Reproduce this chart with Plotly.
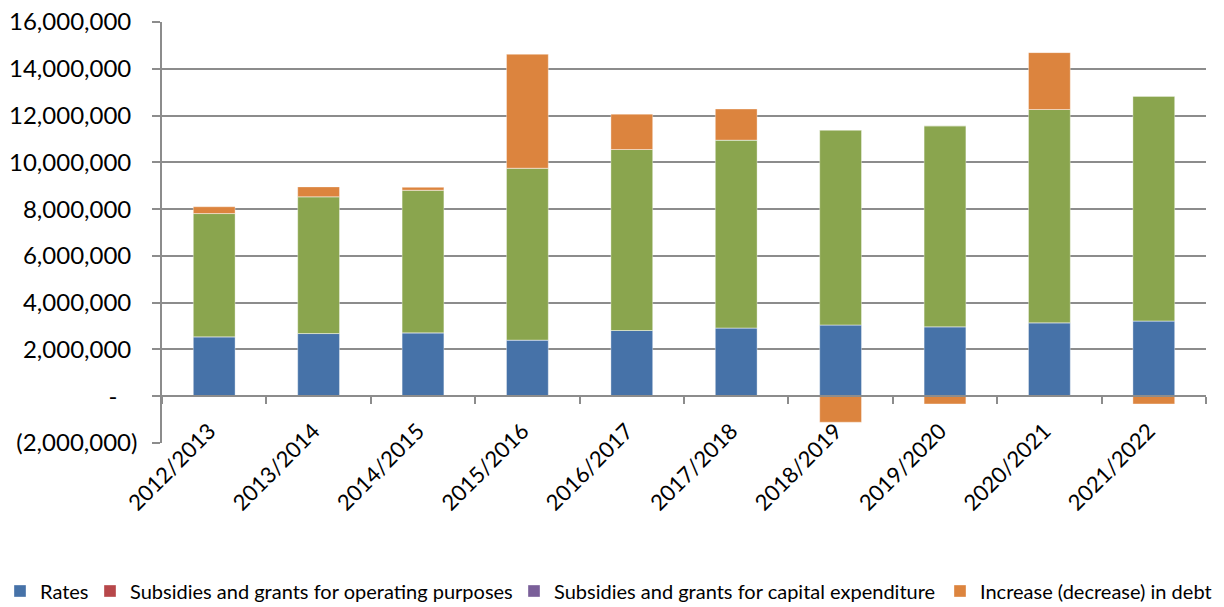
import plotly.graph_objects as go

categories = ["2012/2013", "2013/2014", "2014/2015", "2015/2016", "2016/2017",
              "2017/2018", "2018/2019", "2019/2020", "2020/2021", "2021/2022"]
rates = [2540000, 2680000, 2710000, 2400000, 2810000, 2920000, 3050000, 2970000, 3140000, 3220000]
subsidies_operating = [0, 0, 0, 0, 0, 0, 0, 0, 0, 0]
other_revenue = [5270000, 5850000, 6100000, 7350000, 7740000, 8030000, 8330000, 8590000, 9120000, 9610000]
subsidies_capital = [0, 0, 0, 0, 0, 0, 0, 0, 0, 0]
debt_change = [290000, 420000, 120000, 4870000, 1510000, 1330000, -1110000, -330000, 2430000, -330000]

y_tickvals = [-2000000, 0, 2000000, 4000000, 6000000, 8000000, 10000000, 12000000, 14000000, 16000000]
y_range = [-2000000, 16000000]


def acct(v):
    if v < 0:
        return "({:,})".format(-v)
    if v == 0:
        return "-\u2007\u00a0"
    return "{:,}\u00a0".format(v)


y_ticktext = [acct(v) for v in y_tickvals]

FONT = "Lato, Carlito, Calibri, sans-serif"
GRID = "#8c8c8c"
edge = dict(width=0.8, color="rgba(255,255,255,0.45)")

W, H = 1224, 607
ML, MR, MT, MB = 162, 18, 22, 164
PW = W - ML - MR
PH = H - MT - MB


def px_to_paper_x(px):
    return (px - ML) / PW


def px_to_paper_y(py):
    return (H - MB - py) / PH


fig = go.Figure()
fig.add_trace(go.Bar(name="Rates", x=categories, y=rates, legend="legend",
                     marker=dict(color="#4672a8", line=edge)))
fig.add_trace(go.Bar(name="Subsidies and grants for operating purposes", x=categories,
                     y=subsidies_operating, legend="legend2",
                     marker=dict(color="#b7474a", line=edge)))
fig.add_trace(go.Bar(name="Other revenue", x=categories, y=other_revenue, showlegend=False,
                     marker=dict(color="#8aa54e", line=edge)))
fig.add_trace(go.Bar(name="Subsidies and grants for capital expenditure", x=categories,
                     y=subsidies_capital, legend="legend3",
                     marker=dict(color="#7a5f99", line=edge)))
fig.add_trace(go.Bar(name="Increase (decrease) in debt", x=categories, y=debt_change,
                     legend="legend4",
                     marker=dict(color="#dc843e", line=edge)))

n = len(categories)
zero_pos = (0 - y_range[0]) / (y_range[1] - y_range[0])

# invisible helper trace to carry the zero-line axis with between-category ticks
fig.add_trace(go.Scatter(x=[-0.5, n - 0.5], y=[None, None], xaxis="x2", yaxis="y",
                         showlegend=False, hoverinfo="skip", mode="lines"))

leg_font = dict(size=20, family=FONT, color="black")
leg_y = px_to_paper_y(591)


def leg(px_left):
    return dict(orientation="h", x=px_to_paper_x(px_left), xanchor="left",
                y=leg_y, yanchor="middle", font=leg_font, itemwidth=30,
                bgcolor="rgba(0,0,0,0)", borderwidth=0)


fig.update_layout(
    width=W, height=H,
    barmode="relative",
    bargap=0.6,
    plot_bgcolor="white",
    paper_bgcolor="white",
    margin=dict(l=ML, r=MR, t=MT, b=MB, autoexpand=False),
    font=dict(family=FONT, color="black", size=23),
    showlegend=True,
    xaxis=dict(
        type="category",
        tickangle=-45,
        showgrid=False,
        showline=False,
        ticks="",
        tickfont=dict(size=22, family=FONT),
        ticklabelstandoff=-30,
        ticklabelshift=-5,
        range=[-0.5, n - 0.5],
        automargin=False,
    ),
    xaxis2=dict(
        overlaying="x",
        anchor="free",
        position=zero_pos,
        range=[-0.5, n - 0.5],
        tickvals=[i - 0.5 for i in range(n + 1)],
        showticklabels=False,
        ticks="outside",
        ticklen=7,
        tickwidth=1.5,
        tickcolor=GRID,
        showline=True,
        linecolor=GRID,
        linewidth=1.5,
        showgrid=False,
        zeroline=False,
        automargin=False,
    ),
    yaxis=dict(
        range=y_range,
        tickvals=y_tickvals,
        ticktext=y_ticktext,
        showgrid=True,
        gridcolor=GRID,
        gridwidth=1.5,
        zeroline=False,
        showline=True,
        linecolor=GRID,
        linewidth=1.5,
        ticks="outside",
        ticklen=8,
        tickwidth=1.5,
        tickcolor=GRID,
        tickfont=dict(size=24, family=FONT),
        ticklabelstandoff=10,
        automargin=False,
    ),
    legend=leg(0),
    legend2=leg(90),
    legend3=leg(514),
    legend4=leg(940),
)

fig.write_html("out.html", config={"displayModeBar": False},
               post_script="document.body.style.margin='0px';")
